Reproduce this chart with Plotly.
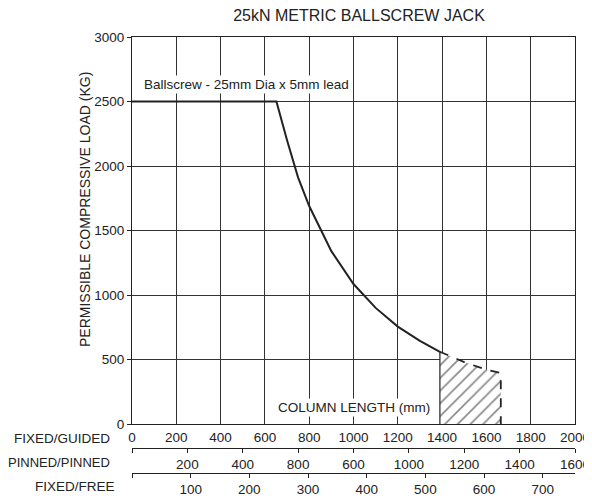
import plotly.graph_objects as go

# ---- data ----
load_x = [0, 652, 700, 750, 800, 900, 1000, 1100, 1200, 1300, 1390]
load_y = [2500, 2500, 2200, 1910, 1690, 1340, 1085, 900, 755, 645, 560]

dash_x = [1390, 1500, 1600, 1665, 1665]
dash_y = [560, 480, 420, 395, 0]

hatch_x = [1390, 1390, 1500, 1600, 1665, 1665]
hatch_y = [0, 560, 480, 420, 395, 0]

guided_ticks = [0, 200, 400, 600, 800, 1000, 1200, 1400, 1600, 1800, 2000]
pinned_vals = [0, 200, 400, 600, 800, 1000, 1200, 1400, 1600]
pinned_text = ["", "200", "400", "800", "600", "1000", "1200", "1400", "1600"]
free_vals = [0, 100, 200, 300, 400, 500, 600, 700]
free_text = ["", "100", "200", "300", "400", "500", "600", "700"]
load_ticks = [0, 500, 1000, 1500, 2000, 2500, 3000]

FONT = "Arial, Liberation Sans, sans-serif"
INK = "#222222"
FS = 13.5

# the page body adds an 8px offset; the figure is sized to fit the window
OFF = 8
W, H = 592 - OFF, 499 - OFF

fig = go.Figure()

fig.add_trace(go.Scatter(
    x=hatch_x, y=hatch_y, mode="none", fill="toself",
    fillcolor="white",
    fillpattern=dict(shape="/", fgcolor="#111111", bgcolor="white",
                     size=9, solidity=0.18),
    hoverinfo="skip", showlegend=False))

fig.add_trace(go.Scatter(
    x=[hatch_x[0], hatch_x[1]], y=[hatch_y[0], hatch_y[1]], mode="lines",
    line=dict(color=INK, width=1.2), showlegend=False, hoverinfo="skip"))

fig.add_trace(go.Scatter(
    x=dash_x, y=dash_y, mode="lines",
    line=dict(color=INK, width=1.8, dash="dash"), showlegend=False))

fig.add_trace(go.Scatter(
    x=load_x, y=load_y, mode="lines",
    line=dict(color=INK, width=2), showlegend=False))

# invisible traces to activate secondary axes
fig.add_trace(go.Scatter(x=[0], y=[0], xaxis="x2", yaxis="y", mode="markers",
                         marker=dict(opacity=0), showlegend=False, hoverinfo="skip"))
fig.add_trace(go.Scatter(x=[0], y=[0], xaxis="x3", yaxis="y", mode="markers",
                         marker=dict(opacity=0), showlegend=False, hoverinfo="skip"))

# layout in reference page pixels
PL, PR, PT, PB = 132, 575, 37, 473   # plot area (PB = lowest axis line)
m_l = PL - OFF
m_r = 592 - PR
m_t = PT - OFF
m_b = 499 - PB
plot_h = PB - PT
def py(pix):
    return (PB - pix) / plot_h

fig.update_layout(
    width=W, height=H,
    margin=dict(l=m_l, r=m_r, t=m_t, b=m_b, autoexpand=False),
    paper_bgcolor="white", plot_bgcolor="white",
    font=dict(family=FONT, size=FS, color=INK),
    title=dict(text="25kN METRIC BALLSCREW JACK", x=(359 - PL) / (PR - PL),
               xanchor="center", xref="paper",
               y=1 - (15 - OFF) / H, yanchor="middle",
               font=dict(size=16, color=INK)),
    xaxis=dict(range=[0, 2000], tickvals=guided_ticks, showgrid=True,
               gridcolor="#333333", gridwidth=1, showline=True, linecolor=INK,
               linewidth=1.2, mirror=True, ticks="outside", ticklen=1,
               tickcolor="rgba(0,0,0,0)", zeroline=False, automargin=False,
               anchor="y", domain=[0, 1], fixedrange=True),
    yaxis=dict(range=[0, 3000], tickvals=load_ticks, showgrid=True,
               gridcolor="#333333", gridwidth=1, showline=True, linecolor=INK,
               linewidth=1.2, mirror=True, ticks="outside", ticklen=4,
               tickcolor=INK, zeroline=False, domain=[py(424), 1],
               automargin=False),
    xaxis2=dict(range=[0, 1600], tickvals=pinned_vals, ticktext=pinned_text,
                anchor="free", position=py(448), overlaying="x", side="bottom",
                showgrid=False, showline=True, linecolor=INK, linewidth=1.2,
                ticks="outside", ticklen=4, tickcolor=INK, zeroline=False,
                automargin=False),
    xaxis3=dict(range=[0, 755], tickvals=free_vals, ticktext=free_text,
                anchor="free", position=py(473), overlaying="x", side="bottom",
                showgrid=False, showline=True, linecolor=INK, linewidth=1.2,
                ticks="outside", ticklen=4, tickcolor=INK, zeroline=False,
                automargin=False),
)

# y-axis title (placed as rotated text to match the reference position)
fig.add_annotation(text="PERMISSIBLE COMPRESSIVE LOAD (KG)", textangle=-90,
                   x=0, xshift=85 - PL, y=py(210), xref="paper", yref="paper",
                   xanchor="center", yanchor="middle", showarrow=False,
                   font=dict(size=14))

fig.add_annotation(text="Ballscrew - 25mm Dia x 5mm lead", x=45, y=2628,
                   xref="x", yref="y", xanchor="left", yanchor="middle",
                   showarrow=False, bgcolor="white", font=dict(size=FS))
fig.add_annotation(text="COLUMN LENGTH (mm)", x=1000, y=125,
                   xref="x", yref="y", xanchor="center", yanchor="middle",
                   showarrow=False, bgcolor="white", font=dict(size=FS))

for label, pix, right, fs in [("FIXED/GUIDED", 438, 110, FS),
                              ("PINNED/PINNED", 462, 110, 13),
                              ("FIXED/FREE", 487, 115, FS)]:
    fig.add_annotation(text=label, x=0, xshift=right - PL + 2, y=py(pix),
                       xref="paper", yref="paper", xanchor="right",
                       yanchor="middle", showarrow=False, font=dict(size=fs))

fig.write_html("out.html")
